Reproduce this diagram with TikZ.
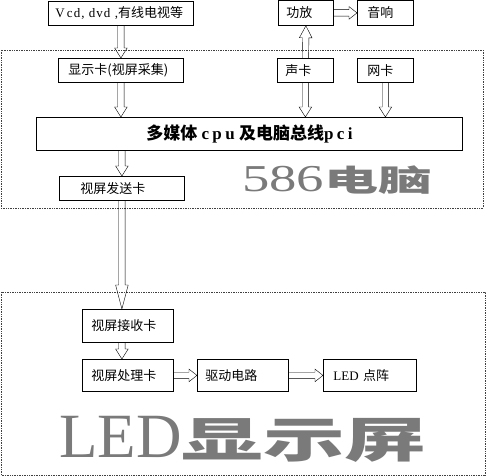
\documentclass[tikz,border=0pt]{standalone}
\usepackage{fontspec}
\usepackage{graphicx}
\setmainfont{Liberation Serif}
\newfontfamily\cjk{Noto Sans CJK SC}
\newfontfamily\lsp{Liberation Serif}[LetterSpace=20]
\newfontfamily\lspa{Liberation Serif}[LetterSpace=8]
\usetikzlibrary{calc}
\definecolor{biggray}{HTML}{7A7A7A}
\tikzset{
  bx/.style={draw, line width=0.8pt, anchor=north west, align=left, inner ysep=0pt,
    font=\fontsize{13}{15}\selectfont\cjk},
  blk/.style={line width=1pt, fill=white, to path={let \p1=(\tikztostart), \p2=(\tikztotarget),
    \n1={atan2(\y2-\y1,\x2-\x1)}, \p3=($(\p2)!#1!(\p1)$) in
    ($(\p1)+(\n1+90:3.2pt)$) -- ($(\p3)+(\n1+90:3.2pt)$) -- ($(\p3)+(\n1+90:6.3pt)$) -- (\p2)
    -- ($(\p3)+(\n1-90:6.3pt)$) -- ($(\p3)+(\n1-90:3.2pt)$) -- ($(\p1)+(\n1-90:3.2pt)$)}},
  blk/.default=10pt,
  frame/.style={densely dotted, line width=0.7pt, black!75}
}
\begin{document}
\begin{tikzpicture}[x=1pt,y=-1pt]
\useasboundingbox (0,0) rectangle (488,476);
% frames
\draw[frame] (1,50) rectangle (483,208);
\draw[frame] (1,292) rectangle (485,475);
% top row
\node[bx, minimum height=24pt, text width=131pt, inner xsep=7pt] (vcd) at (48,1) {{\lspa V\,cd, dvd ,}有线电视等};
\node[bx, minimum height=25pt, text width=39pt, inner xsep=8pt] (amp) at (278,0) {功放};
\node[bx, minimum height=25pt, text width=36pt, inner xsep=10pt] (spk) at (357,0) {音响};
% second row
\node[bx, minimum height=24pt, text width=105pt, inner xsep=10pt] (disp) at (58,58) {显示卡(视屏采集)};
\node[bx, minimum height=24pt, text width=40pt, inner xsep=8pt] (snd) at (277,58) {声卡};
\node[bx, minimum height=24pt, text width=36pt, inner xsep=10pt] (net) at (357,58) {网卡};
% cpu
\node[draw, line width=0.8pt, anchor=north west, minimum width=426pt, minimum height=33pt, inner sep=0pt] (cpu) at (36,117)
  {\fontsize{17}{19}\selectfont\bfseries{\cjk 多媒体} {\lsp cpu} {\cjk 及电脑总线}{\lsp pci}};
% sender
\node[bx, minimum height=24pt, text width=83pt, inner xsep=21pt] (send) at (59,176) {视屏发送卡};
\node[anchor=base west, inner sep=0pt, text=biggray] (pc) at (242,192)
  {\scalebox{1.44}[1]{\fontsize{38}{40}\selectfont 586}\scalebox{1.8}[1]{\fontsize{30}{32}\selectfont\cjk\bfseries 电脑}};
% lower part
\node[bx, minimum height=33pt, text width=73pt, inner xsep=9pt] (recv) at (82,309) {视屏接收卡};
\node[bx, minimum height=32pt, text width=73pt, inner xsep=9pt] (proc) at (82,359) {视屏处理卡};
\node[bx, minimum height=32pt, text width=75pt, inner xsep=8pt] (drv) at (197,359) {驱动电路};
\node[bx, minimum height=32pt, text width=73pt, inner xsep=10pt] (led) at (323,359) {{\rmfamily LED }点阵};
\node[anchor=base west, inner sep=0pt, text=biggray] (title) at (59,457)
  {\fontsize{63}{66}\selectfont LED\scalebox{1.7}[1]{\fontsize{48}{50}\selectfont\cjk\bfseries 显示屏}};
% arrows
\draw (vcd.south) to[blk] (disp.north);
\draw (disp.south) to[blk] (disp.south |- cpu.north);
\draw (snd.north) to[blk=12pt] (amp.south);
\draw (snd.south) to[blk] (snd.south |- cpu.north);
\draw (net.south) to[blk] (net.south |- cpu.north);
\draw (amp.east) to[blk=8pt] (spk.west);
\draw (send.north |- cpu.south) to[blk] (send.north);
\draw (send.south) to[blk=24pt] (send.south |- recv.north);
\draw (send.south |- recv.south) to[blk] (send.south |- proc.north);
\draw (proc.east) to[blk=8pt] (drv.west);
\draw (drv.east) to[blk=8pt] (led.west);
\end{tikzpicture}
\end{document}
